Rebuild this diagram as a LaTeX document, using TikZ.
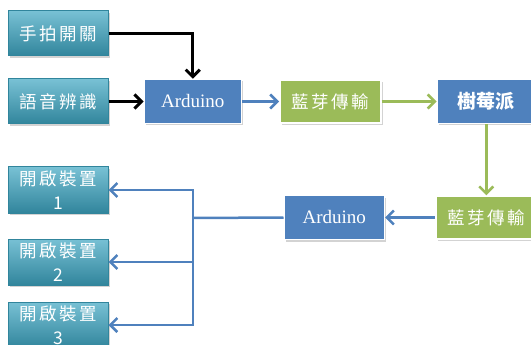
\documentclass[tikz,border=0pt]{standalone}
\usepackage{fontspec}
\setmainfont{Liberation Serif}
\newfontfamily\cjk[LetterSpace=15]{Noto Sans CJK TC}
\newfontfamily\cjkb{Noto Sans CJK TC}
\usetikzlibrary{positioning,shadows,arrows.meta}
\definecolor{myteal}{RGB}{75,172,198}
\definecolor{mytealdark}{RGB}{49,133,156}
\definecolor{myblue}{RGB}{79,129,189}
\definecolor{mygreen}{RGB}{155,187,89}

\begin{document}
\begin{tikzpicture}[x=1pt,y=-1pt,thick,
  box/.style={minimum width=100pt,minimum height=45pt,inner sep=1pt,text=white,
    drop shadow={opacity=0.35,shadow xshift=2pt,shadow yshift=-2pt}},
  inbox/.style={box,top color=myteal!75!white,bottom color=mytealdark,draw=mytealdark,
    line width=1pt,font=\cjk\fontsize{17.5}{24}\selectfont,align=center},
  ardbox/.style={box,fill=myblue,draw=white,line width=1.5pt,minimum width=97pt,
    minimum height=44pt,font=\fontsize{19}{22}\selectfont},
  btbox/.style={box,fill=mygreen,draw=white,line width=1.5pt,minimum width=101pt,
    minimum height=43pt,font=\cjk\fontsize{17.5}{20}\selectfont},
  pibox/.style={box,fill=myblue,draw=white,line width=1.5pt,minimum width=98pt,
    minimum height=44pt,font=\cjkb\fontsize{19}{22}\selectfont\bfseries},
  arr/.style={-{Straight Barb[length=7pt,width=14pt]},line width=2.5pt}]

  \useasboundingbox (0,0) rectangle (531,345);

  % inputs
  \node[inbox] (clap) at (58,33.5) {手拍開關};
  \node[inbox,below=22pt of clap] (voice) {語音辨識};

  % top row
  \node[ardbox,right=35pt of voice] (ard1) {Arduino};
  \node[btbox,right=37pt of ard1] (bt1) {藍芽傳輸};
  \node[pibox,right=55pt of bt1] (pi) {樹莓派};

  % return row
  \node[btbox,below=71pt of pi] (bt2) {藍芽傳輸};
  \node[ardbox,left=50pt of bt2,minimum width=100pt] (ard2) {Arduino};

  % outputs
  \node[inbox,minimum height=46pt] (dev1) at (58,190) {開啟裝置\\1};
  \node[inbox,minimum height=46pt,below=25pt of dev1] (dev2) {開啟裝置\\2};
  \node[inbox,minimum height=46pt,below=16pt of dev2] (dev3) {開啟裝置\\3};

  \coordinate (split) at (193,218);

  \draw[arr,line width=3pt] (clap.east) -| (ard1.north);
  \draw[arr,line width=3pt] (voice) -- (ard1);
  \draw[arr,myblue] (ard1) -- (bt1);
  \draw[arr,mygreen] (bt1) -- (pi);
  \draw[arr,mygreen] (pi) -- (bt2);
  \draw[arr,myblue] (bt2) -- (ard2);

  % draw branches to the devices
  \draw[myblue,line width=2.5pt] (ard2.west) -- (split);
  \draw[arr,myblue] (split) |- (dev1.east);
  \draw[arr,myblue] (split) |- (dev2.east);
  \draw[arr,myblue] (split) |- (dev3.east);

\end{tikzpicture}
\end{document}
